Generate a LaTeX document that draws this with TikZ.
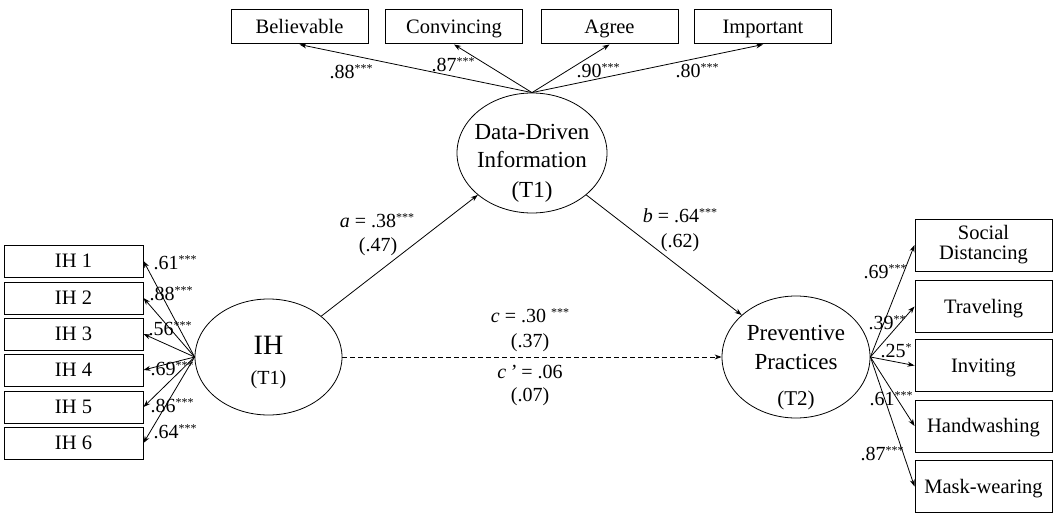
\documentclass[tikz,border=0pt]{standalone}
\usepackage{fontspec}
\setmainfont{Liberation Serif}
\usetikzlibrary{shapes.geometric,arrows.meta}
\newcommand{\sigstar}[1]{\raisebox{6pt}{\fontsize{12}{12}\selectfont #1}}
\begin{document}
\begin{tikzpicture}[x=1pt,y=-1pt,
  line width=0.8pt,
  obsbase/.style={draw,rectangle,line width=1pt,inner sep=0pt,font=\fontsize{20.5}{23}\selectfont,align=center},
  obs/.style={obsbase,text height=17pt,text depth=3.5pt},
  topbox/.style={obs,minimum width=137pt,minimum height=34pt},
  leftbox/.style={obs,minimum width=139pt,minimum height=32pt},
  rightbox/.style={obs,minimum width=137pt,minimum height=52pt},
  rightbox2/.style={obsbase,minimum width=137pt,minimum height=52pt},
  lat/.style={draw,ellipse,inner sep=0pt},
  ltxt/.style={inner sep=0pt,font=\fontsize{23}{26}\selectfont},
  lab/.style={inner sep=0pt,font=\fontsize{20}{23}\selectfont},
  arr/.style={-{Stealth[length=7pt,width=5pt]}},
  dsh/.style={arr,dash pattern=on 5pt off 3pt}]
\useasboundingbox (0,0) rectangle (1056,513);
% latent variables
\node[lat,minimum width=150pt,minimum height=120pt] (DD) at (532,153) {};
\node[lat,minimum width=147pt,minimum height=116pt] (IH) at (268.5,357) {};
\node[lat,minimum width=148pt,minimum height=122pt] (PP) at (796,357) {};
\node[ltxt] (dd1) at (532,132) {Data-Driven};
\node[ltxt] (dd2) at (532,160) {Information};
\node[ltxt] (dd3) at (532,192) {(T1)};
\node[inner sep=0pt,font=\fontsize{28}{32}\selectfont] (ih1) at (268.5,345) {IH};
\node[inner sep=0pt,font=\fontsize{20}{23}\selectfont] (ih2) at (268.5,380) {(T1)};
\node[ltxt] (pp1) at (796,333) {Preventive};
\node[ltxt] (pp2) at (796,362) {Practices};
\node[inner sep=0pt,font=\fontsize{21}{24}\selectfont] (pp3) at (796,400) {(T2)};
% top indicators
\node[topbox] (bel) at (299.5,27) {Believable};
\node[topbox] (con) at (454,27) {Convincing};
\node[topbox] (agr) at (609.5,27) {Agree};
\node[topbox] (imp) at (763,27) {Important};
% left indicators
\node[leftbox] (i1) at (73.5,261) {IH 1};
\node[leftbox] (i2) at (73.5,298) {IH 2};
\node[leftbox] (i3) at (73.5,334) {IH 3};
\node[leftbox] (i4) at (73.5,370) {IH 4};
\node[leftbox] (i5) at (73.5,407) {IH 5};
\node[leftbox] (i6) at (73.5,443) {IH 6};
% right indicators
\node[rightbox2] (sd) at (983.5,245) {Social\\[-3pt]Distancing};
\node[rightbox] (tr) at (983.5,306.5) {Traveling};
\node[rightbox] (in) at (983.5,365.5) {Inviting};
\node[rightbox] (hw) at (983.5,426) {Handwashing};
\node[rightbox] (mw) at (983.5,486.5) {Mask-wearing};
% loadings
\foreach \b in {bel,con,agr,imp} \draw[arr] (DD.north) -- (\b.south);
\foreach \b in {i1,i2,i3,i4,i5,i6} \draw[arr] (IH.west) -- (\b.east);
\foreach \b in {sd,tr,in,hw,mw} \draw[arr] (PP.east) -- (\b.west);
% structural paths
\draw[arr] (IH) -- (DD);
\draw[arr] (DD) -- (PP);
\draw[dsh] (IH.east) -- (PP.west);
% loading labels
\node[lab] (lb1) at (351,72) {.88\sigstar{***}};
\node[lab] (lb2) at (453,65) {.87\sigstar{***}};
\node[lab] (lb3) at (598,71) {.90\sigstar{***}};
\node[lab] (lb4) at (697,71) {.80\sigstar{***}};
\node[lab] (ll1) at (175,263) {.61\sigstar{***}};
\node[lab] (ll2) at (171,294) {.88\sigstar{***}};
\node[lab] (ll3) at (170,329) {.56\sigstar{***}};
\node[lab] (ll4) at (172,369) {.69\sigstar{***}};
\node[lab] (ll5) at (172,406) {.86\sigstar{***}};
\node[lab] (ll6) at (175,432) {.64\sigstar{***}};
\node[lab] (lr1) at (885,272) {.69\sigstar{***}};
\node[lab] (lr2) at (887,323) {.39\sigstar{**}};
\node[lab] (lr3) at (896,351) {.25\sigstar{*}};
\node[lab] (lr4) at (891,399) {.61\sigstar{***}};
\node[lab] (lr5) at (882,454) {.87\sigstar{***}};
% path labels
\node[lab] (pa1) at (377,221) {\textit{a} = .38\sigstar{***}};
\node[lab] (pa2) at (378,247) {(.47)};
\node[lab] (pb1) at (680,216) {\textit{b} = .64\sigstar{***}};
\node[lab] (pb2) at (680,243) {(.62)};
\node[lab] (pc1) at (530,316) {\textit{c} = .30 \sigstar{***}};
\node[lab] (pc2) at (530,343) {(.37)};
\node[lab] (pc3) at (530,372) {\textit{c\,’} = .06};
\node[lab] (pc4) at (530,397) {(.07)};
\end{tikzpicture}
\end{document}
